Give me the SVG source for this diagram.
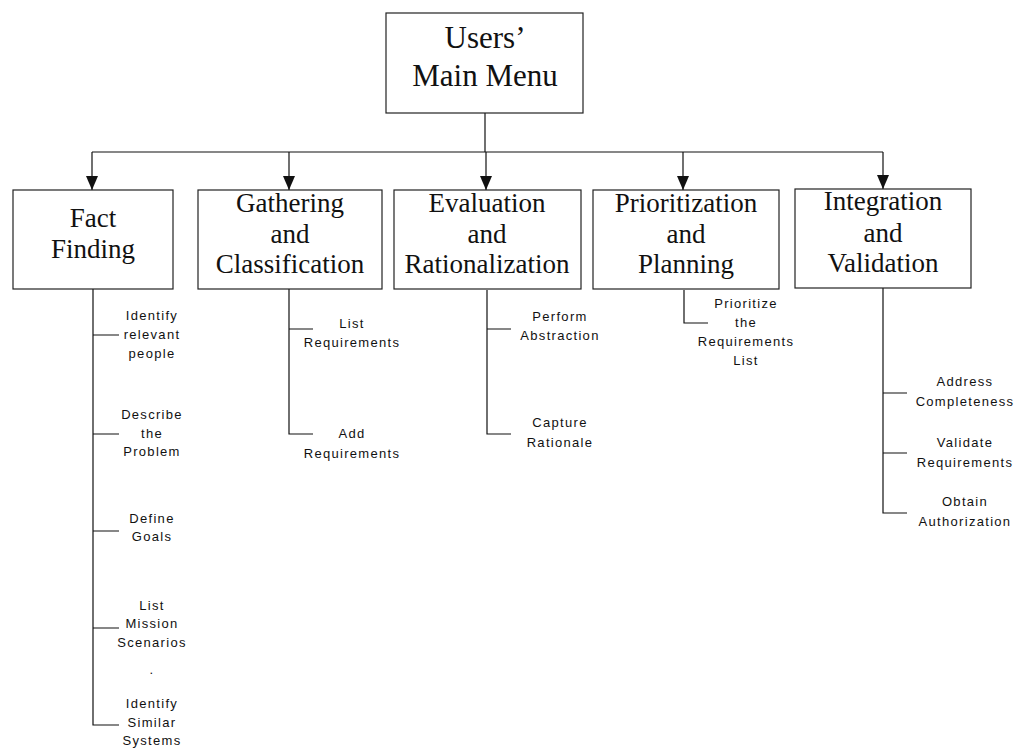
<svg xmlns="http://www.w3.org/2000/svg" width="1025" height="748" viewBox="0 0 1025 748">
<style>
.box{fill:#fff;stroke:#222;stroke-width:1.2}
.big{font-family:"Liberation Serif","Times New Roman",serif;font-size:27px;fill:#111;text-anchor:middle}
.top{font-size:31px}
.small{font-family:"Liberation Sans",Arial,sans-serif;font-size:13px;letter-spacing:1.3px;fill:#111;text-anchor:middle}
.ln{fill:none;stroke:#111;stroke-width:1.2}
</style>
<defs>
<marker id="ah" viewBox="0 0 14 12" refX="14" refY="6" markerWidth="14" markerHeight="12" markerUnits="userSpaceOnUse" orient="auto">
<path d="M0,0 L14,6 L0,12 Z" fill="#111"/>
</marker>
</defs>
<rect width="1025" height="748" fill="#fff"/>
<g id="connectors">
<path class="ln" d="M485,113 V152"/>
<path class="ln" d="M92,152 H883"/>
<path class="ln" d="M92,152 V190" marker-end="url(#ah)"/>
<path class="ln" d="M289,152 V190" marker-end="url(#ah)"/>
<path class="ln" d="M486,152 V190" marker-end="url(#ah)"/>
<path class="ln" d="M683,152 V190" marker-end="url(#ah)"/>
<path class="ln" d="M883,152 V189" marker-end="url(#ah)"/>
<path class="ln" d="M93,289 V725 H119 M93,335 H119 M93,434 H119 M93,531 H119 M93,628 H119"/>
<path class="ln" d="M289,289 V434 H313 M289,329 H313"/>
<path class="ln" d="M487,290 V434 H511 M487,329 H511"/>
<path class="ln" d="M684,290 V323 H708"/>
<path class="ln" d="M883,288 V513 H907 M883,393 H907 M883,453 H907"/>
</g>
<g id="main-menu">
<rect class="box" x="386" y="13" width="197" height="100"/>
<text class="big top" x="485" y="48">Users’</text>
<text class="big top" x="485" y="86">Main Menu</text>
</g>
<g id="fact-finding">
<rect class="box" x="13" y="190" width="160" height="99"/>
<text class="big" x="93" y="227">Fact</text>
<text class="big" x="93" y="258">Finding</text>
</g>
<g id="gathering">
<rect class="box" x="198" y="190" width="184" height="99"/>
<text class="big" x="290" y="212">Gathering</text>
<text class="big" x="290" y="243">and</text>
<text class="big" x="290" y="273">Classification</text>
</g>
<g id="evaluation">
<rect class="box" x="394" y="190" width="187" height="99"/>
<text class="big" x="487" y="212">Evaluation</text>
<text class="big" x="487" y="243">and</text>
<text class="big" x="487" y="273">Rationalization</text>
</g>
<g id="prioritization">
<rect class="box" x="593" y="190" width="186" height="99"/>
<text class="big" x="686" y="212">Prioritization</text>
<text class="big" x="686" y="243">and</text>
<text class="big" x="686" y="273">Planning</text>
</g>
<g id="integration">
<rect class="box" x="795" y="189" width="176" height="99"/>
<text class="big" x="883" y="210">Integration</text>
<text class="big" x="883" y="242">and</text>
<text class="big" x="883" y="272">Validation</text>
</g>
<g id="ff-identify-people">
<text class="small" x="152" y="320">Identify</text>
<text class="small" x="152" y="339">relevant</text>
<text class="small" x="152" y="358">people</text>
</g>
<g id="ff-describe">
<text class="small" x="152" y="419">Describe</text>
<text class="small" x="152" y="438">the</text>
<text class="small" x="152" y="456">Problem</text>
</g>
<g id="ff-goals">
<text class="small" x="152" y="523">Define</text>
<text class="small" x="152" y="541">Goals</text>
</g>
<g id="ff-scenarios">
<text class="small" x="152" y="610">List</text>
<text class="small" x="152" y="628">Mission</text>
<text class="small" x="152" y="647">Scenarios</text>
<text class="small" x="152" y="674">.</text>
</g>
<g id="ff-similar">
<text class="small" x="152" y="708">Identify</text>
<text class="small" x="152" y="727">Similar</text>
<text class="small" x="152" y="745">Systems</text>
</g>
<g id="gc-list">
<text class="small" x="352" y="328">List</text>
<text class="small" x="352" y="347">Requirements</text>
</g>
<g id="gc-add">
<text class="small" x="352" y="438">Add</text>
<text class="small" x="352" y="458">Requirements</text>
</g>
<g id="er-abstraction">
<text class="small" x="560" y="321">Perform</text>
<text class="small" x="560" y="340">Abstraction</text>
</g>
<g id="er-rationale">
<text class="small" x="560" y="427">Capture</text>
<text class="small" x="560" y="447">Rationale</text>
</g>
<g id="pp-prioritize">
<text class="small" x="746" y="308">Prioritize</text>
<text class="small" x="746" y="327">the</text>
<text class="small" x="746" y="346">Requirements</text>
<text class="small" x="746" y="365">List</text>
</g>
<g id="iv-completeness">
<text class="small" x="965" y="386">Address</text>
<text class="small" x="965" y="406">Completeness</text>
</g>
<g id="iv-validate">
<text class="small" x="965" y="447">Validate</text>
<text class="small" x="965" y="467">Requirements</text>
</g>
<g id="iv-authorization">
<text class="small" x="965" y="506">Obtain</text>
<text class="small" x="965" y="526">Authorization</text>
</g>
</svg>
